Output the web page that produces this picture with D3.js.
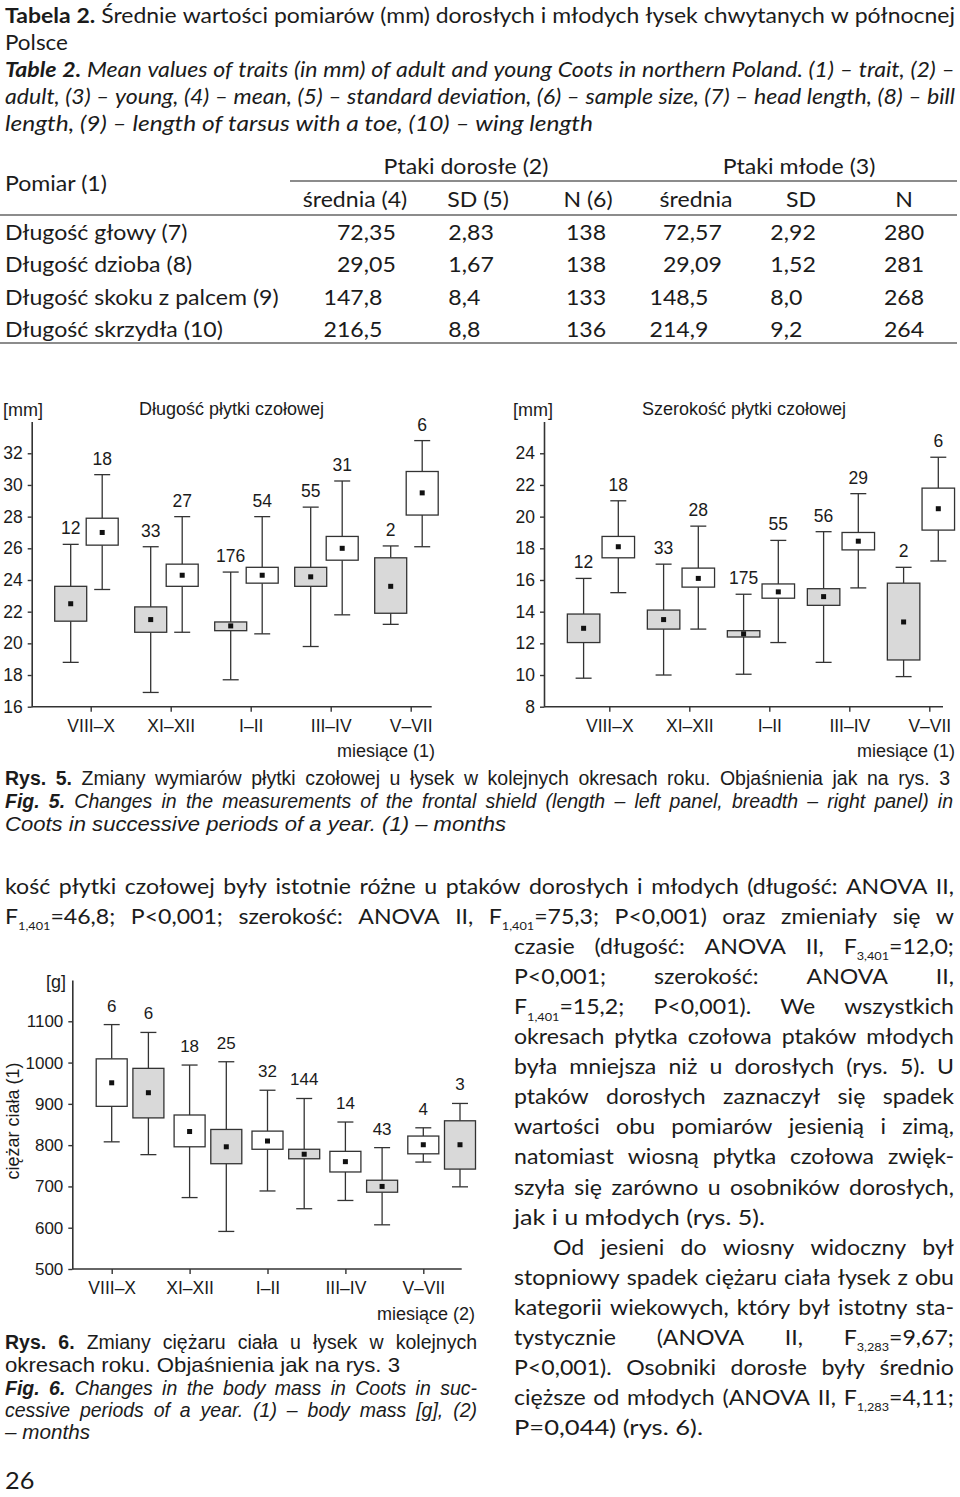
<!DOCTYPE html>
<html><head><meta charset="utf-8">
<script src="https://cdn.jsdelivr.net/npm/d3@7"></script>
<style>body{margin:0;background:#fff}svg{display:block}</style>
</head><body>
<svg id="page" width="960" height="1497"></svg>
<script>
// ---------- DATA ----------
const periods = ["VIII–X", "XI–XII", "I–II", "III–IV", "V–VII"];

// Fig.5 left: length of frontal shield [mm]; adults (grey) / young (white)
const lenAdultLow  = [18.8, 16.9, 17.7, 19.8, 21.2];
const lenAdultQ1   = [21.4, 20.7, 20.8, 23.6, 21.9];
const lenAdultMean = [22.5, 21.5, 21.1, 24.2, 23.6];
const lenAdultQ3   = [23.6, 22.3, 21.35, 24.8, 25.4];
const lenAdultHigh = [26.25, 26.1, 24.5, 28.6, 26.15];
const lenAdultN    = [12, 33, 176, 55, 2];
const lenYoungLow  = [23.4, 20.7, 20.6, 21.8, 26.1];
const lenYoungQ1   = [26.2, 23.6, 23.8, 25.25, 28.1];
const lenYoungMean = [27.0, 24.3, 24.3, 26.0, 29.5];
const lenYoungQ3   = [27.9, 25.0, 24.8, 26.75, 30.85];
const lenYoungHigh = [30.65, 28.0, 28.0, 30.25, 32.8];
const lenYoungN    = [18, 27, 54, 31, 6];

// Fig.5 right: breadth of frontal shield [mm]
const widAdultLow  = [9.8, 10.0, 10.05, 10.8, 9.9];
const widAdultQ1   = [12.05, 12.9, 12.4, 14.4, 10.95];
const widAdultMean = [12.95, 13.5, 12.6, 14.95, 13.35];
const widAdultQ3   = [13.85, 14.1, 12.8, 15.45, 15.8];
const widAdultHigh = [16.1, 17.0, 15.1, 19.05, 16.8];
const widAdultN    = [12, 33, 175, 56, 2];
const widYoungLow  = [15.2, 12.9, 12.05, 15.5, 17.2];
const widYoungQ1   = [17.4, 15.55, 14.85, 17.9, 19.15];
const widYoungMean = [18.1, 16.1, 15.25, 18.45, 20.5];
const widYoungQ3   = [18.75, 16.75, 15.75, 19.0, 21.8];
const widYoungHigh = [21.0, 19.4, 18.5, 21.45, 23.75];
const widYoungN    = [18, 28, 55, 29, 6];

// Fig.6: body mass [g]; white then grey
const massWLow  = [808, 673, 689, 666, 759];
const massWQ1   = [894, 796, 790, 735, 779];
const massWMean = [951, 833, 810, 760, 801];
const massWQ3   = [1009, 873, 834, 785, 822];
const massWHigh = [1092, 994, 933, 856, 842];
const massWN    = [6, 18, 32, 14, 4];
const massGLow  = [777, 591, 646, 607, 699];
const massGQ1   = [866, 755, 767, 686, 742];
const massGMean = [927, 796, 778, 700, 801];
const massGQ3   = [986, 838, 790, 715, 859];
const massGHigh = [1073, 1002, 913, 794, 901];
const massGN    = [6, 25, 144, 43, 3];

const lenTicks  = [16, 18, 20, 22, 24, 26, 28, 30, 32];
const widTicks  = [8, 10, 12, 14, 16, 18, 20, 22, 24];
const massTicks = [500, 600, 700, 800, 900, 1000, 1100];

// Table 2
const measures   = ["Długość głowy (7)", "Długość dzioba (8)", "Długość skoku z palcem (9)", "Długość skrzydła (10)"];
const adultMean  = ["72,35", "29,05", "147,8", "216,5"];
const adultSD    = ["2,83", "1,67", "8,4", "8,8"];
const adultN     = ["138", "138", "133", "136"];
const youngMean  = ["72,57", "29,09", "148,5", "214,9"];
const youngSD    = ["2,92", "1,52", "8,0", "9,2"];
const youngN     = ["280", "281", "268", "264"];

// ---------- HELPERS ----------
const svg = d3.select("#page");
svg.append("rect").attr("width", 960).attr("height", 1497).attr("fill", "#fff");
const BODY = "Lato, 'Open Sans', 'DejaVu Sans', sans-serif";
const ARIAL = "'Liberation Sans', Arial, sans-serif";
const INK = "#1b1b1b";
const BODY_SCALE = 1.1;

function parseWords(text) {
  let bold = false;
  return text.split(" ").map(w => {
    const segs = [];
    const re = /\*\*|_\{([^}]*)\}|[^*_]+/g;
    let m;
    while ((m = re.exec(w))) {
      if (m[0] === "**") { bold = !bold; continue; }
      if (m[1] !== undefined) segs.push({t: m[1], sub: true, bold});
      else segs.push({t: m[0], sub: false, bold});
    }
    return segs;
  }).filter(s => s.length);
}

function renderWord(g, segs, o) {
  const t = g.append("text").attr("font-family", o.family).attr("font-size", o.size)
    .attr("font-style", o.italic ? "italic" : "normal").attr("fill", INK);
  let shifted = false;
  segs.forEach(s => {
    const ts = t.append("tspan").text(s.t).attr("font-weight", s.bold ? "bold" : "normal");
    if (s.sub) {
      ts.attr("font-size", o.size * 0.55);
      if (!shifted) { ts.attr("dy", o.size * 0.3); shifted = true; }
    } else if (shifted) { ts.attr("dy", -o.size * 0.3); shifted = false; }
  });
  return t;
}

function spaceWidth(o) {
  const mk = s => svg.append("text").attr("font-family", o.family).attr("font-size", o.size).attr("font-style", o.italic ? "italic" : "normal").text(s);
  const t1 = mk("a a"), t2 = mk("aa");
  const w = t1.node().getComputedTextLength() - t2.node().getComputedTextLength();
  t1.remove(); t2.remove();
  return w;
}

function textLine(o) {
  const g = svg.append("g");
  const words = parseWords(o.text);
  const nodes = words.map(w => renderWord(g, w, o));
  const widths = nodes.map(n => n.node().getComputedTextLength());
  const W = d3.sum(widths);
  const n = words.length - 1;
  const sp = spaceWidth(o);
  const target = o.x1 - o.x0;
  const fitS = target / (W + n * sp);
  let s, gap;
  if (o.mode === "j") {
    s = Math.min(o.scale || 1, fitS);
    gap = n > 0 ? (target - s * W) / n : 0;
  } else {
    s = fitS;
    gap = s * sp;
  }
  let x = o.x0;
  nodes.forEach((nd, i) => {
    nd.attr("transform", `translate(${x},${o.y}) scale(${s},1)`);
    x += widths[i] * s + gap;
  });
}

// ---------- TABLE CAPTION ----------
const capLines = [
  {text: "**Tabela 2.** Średnie wartości pomiarów (mm) dorosłych i młodych łysek chwytanych w północnej", x0: 5, x1: 955, y: 23, mode: "j"},
  {text: "Polsce", x0: 5, x1: 68, y: 50, mode: "f"},
  {text: "**Table 2.** Mean values of traits (in mm) of adult and young Coots in northern Poland. (1) – trait, (2) –", x0: 5, x1: 955, y: 77, mode: "j", italic: true},
  {text: "adult, (3) – young, (4) – mean, (5) – standard deviation, (6) – sample size, (7) – head length, (8) – bill", x0: 5, x1: 955, y: 104, mode: "j", italic: true},
  {text: "length, (9) – length of tarsus with a toe, (10) – wing length", x0: 5, x1: 593, y: 131, mode: "f", italic: true}
];
capLines.forEach(l => textLine(Object.assign({family: BODY, size: 21, scale: BODY_SCALE}, l)));

// ---------- TABLE ----------
const tb = svg.append("g").attr("font-family", BODY).attr("font-size", 21).attr("fill", INK);
const rule = (x1, x2, y) => tb.append("line").attr("x1", x1).attr("x2", x2).attr("y1", y).attr("y2", y).attr("stroke", "#666").attr("stroke-width", 1.4);
rule(290, 957, 181); rule(0, 957, 215); rule(0, 957, 343);
function cell(x, y, t, anchor) {
  tb.append("g").attr("transform", `translate(${x},${y}) scale(${BODY_SCALE},1)`)
    .append("text").attr("text-anchor", anchor || "start").text(t);
}
cell(5, 191, "Pomiar (1)");
cell(466, 174, "Ptaki dorosłe (2)", "middle");
cell(799, 174, "Ptaki młode (3)", "middle");
const subHeads = [["średnia (4)", 355], ["SD (5)", 478], ["N (6)", 588], ["średnia", 696], ["SD", 801], ["N", 904]];
subHeads.forEach(([t, x]) => cell(x, 207, t, "middle"));
const rowY = d3.scalePoint().domain(measures).range([240, 337]);
function decimalCell(v, commaX, y) {
  const [a, b] = v.split(",");
  cell(commaX, y, a + ",", "end");
  cell(commaX, y, b, "start");
}
measures.forEach((m, i) => {
  const y = rowY(m);
  cell(5, y, m);
  decimalCell(adultMean[i], 369, y);
  decimalCell(adultSD[i], 467, y);
  cell(586, y, adultN[i], "middle");
  decimalCell(youngMean[i], 695, y);
  decimalCell(youngSD[i], 789, y);
  cell(904, y, youngN[i], "middle");
});

// ---------- BOX PLOTS ----------
function boxPlot(c) {
  const g = svg.append("g");
  const y = d3.scaleLinear().domain(c.yDomain).range([c.yBottom, c.yTop]);
  const x = d3.scalePoint().domain(periods).range(c.xRange);
  const ya = g.append("g").attr("transform", `translate(${c.axisX},0)`)
    .call(d3.axisLeft(y).tickValues(c.ticks).tickFormat(d3.format("d")).tickSize(4).tickPadding(c.tickPad).tickSizeOuter(0));
  ya.select(".domain").attr("stroke", "#333").attr("stroke-width", 1.6);
  ya.selectAll(".tick line").attr("stroke", "#333").attr("stroke-width", 1.4);
  ya.selectAll(".tick text").attr("font-family", ARIAL).attr("font-size", c.tickFont).attr("fill", INK);
  const xa = g.append("g").attr("transform", `translate(0,${c.yBottom})`)
    .call(d3.axisBottom(x).tickSize(5).tickPadding(8).tickSizeOuter(0));
  xa.select(".domain").remove();
  xa.selectAll(".tick line").attr("stroke", "#333").attr("stroke-width", 1.4);
  xa.selectAll(".tick text").attr("font-family", ARIAL).attr("font-size", c.catFont).attr("fill", INK);
  g.append("line").attr("x1", c.axisX).attr("x2", c.axisEnd).attr("y1", c.yBottom).attr("y2", c.yBottom)
    .attr("stroke", "#333").attr("stroke-width", 1.6);

  c.series.forEach(s => {
    periods.forEach((p, i) => {
      const cx = x(p) + s.offset;
      const line = (x1, y1, x2, y2) => g.append("line").attr("x1", x1).attr("y1", y1).attr("x2", x2).attr("y2", y2)
        .attr("stroke", "#333").attr("stroke-width", 1.3);
      line(cx, y(s.high[i]), cx, y(s.q3[i]));
      line(cx, y(s.q1[i]), cx, y(s.low[i]));
      line(cx - c.capW / 2, y(s.high[i]), cx + c.capW / 2, y(s.high[i]));
      line(cx - c.capW / 2, y(s.low[i]), cx + c.capW / 2, y(s.low[i]));
      g.append("rect").attr("x", cx - c.boxW / 2).attr("y", y(s.q3[i])).attr("width", c.boxW)
        .attr("height", y(s.q1[i]) - y(s.q3[i])).attr("fill", s.fill).attr("stroke", "#333").attr("stroke-width", 1.3);
      g.append("rect").attr("x", cx - 2.5).attr("y", y(s.mean[i]) - 2.5).attr("width", 5).attr("height", 5).attr("fill", "#111");
      g.append("text").attr("x", cx).attr("y", y(s.high[i]) - c.labelGap).attr("text-anchor", "middle")
        .attr("font-family", ARIAL).attr("font-size", c.labelFont).attr("fill", INK).text(s.n[i]);
    });
  });
  return g;
}

const GREY = "#d9d9d9", WHITE = "#ffffff";

boxPlot({
  yDomain: [16, 34], yBottom: 706.7, yTop: 421.6, ticks: lenTicks,
  xRange: [90.7, 410.7], axisX: 31.7, axisEnd: 431.7, tickPad: 5,
  boxW: 32, capW: 16, labelGap: 10, tickFont: 17.5, catFont: 17.5, labelFont: 17.5,
  series: [
    {low: lenAdultLow, q1: lenAdultQ1, mean: lenAdultMean, q3: lenAdultQ3, high: lenAdultHigh, n: lenAdultN, fill: GREY, offset: -20},
    {low: lenYoungLow, q1: lenYoungQ1, mean: lenYoungMean, q3: lenYoungQ3, high: lenYoungHigh, n: lenYoungN, fill: WHITE, offset: 11.5}
  ]
});
boxPlot({
  yDomain: [8, 26], yBottom: 706.7, yTop: 421.6, ticks: widTicks,
  xRange: [609.3, 929.3], axisX: 544, axisEnd: 943, tickPad: 5,
  boxW: 32.5, capW: 16, labelGap: 10, tickFont: 17.5, catFont: 17.5, labelFont: 17.5,
  series: [
    {low: widAdultLow, q1: widAdultQ1, mean: widAdultMean, q3: widAdultQ3, high: widAdultHigh, n: widAdultN, fill: GREY, offset: -25.7},
    {low: widYoungLow, q1: widYoungQ1, mean: widYoungMean, q3: widYoungQ3, high: widYoungHigh, n: widYoungN, fill: WHITE, offset: 9}
  ]
});
boxPlot({
  yDomain: [500, 1200], yBottom: 1269, yTop: 980, ticks: massTicks,
  xRange: [111.7, 423.3], axisX: 72.3, axisEnd: 461.7, tickPad: 5,
  boxW: 31, capW: 16, labelGap: 13, tickFont: 17, catFont: 17.5, labelFont: 17,
  series: [
    {low: massWLow, q1: massWQ1, mean: massWMean, q3: massWQ3, high: massWHigh, n: massWN, fill: WHITE, offset: 0},
    {low: massGLow, q1: massGQ1, mean: massGMean, q3: massGQ3, high: massGHigh, n: massGN, fill: GREY, offset: 36.7}
  ]
});

// chart titles / unit labels
const lab = (x, y, t, anchor, size) => svg.append("text").attr("x", x).attr("y", y).attr("text-anchor", anchor || "start")
  .attr("font-family", ARIAL).attr("font-size", size || 18).attr("fill", INK).text(t);
lab(3, 416, "[mm]");
lab(139, 415, "Długość płytki czołowej");
lab(513, 416, "[mm]");
lab(642, 415, "Szerokość płytki czołowej");
lab(435, 757, "miesiące (1)", "end");
lab(955, 757, "miesiące (1)", "end");
lab(46, 988, "[g]");
lab(475, 1320, "miesiące (2)", "end");
svg.append("text").attr("transform", "translate(19,1121) rotate(-90)").attr("text-anchor", "middle")
  .attr("font-family", ARIAL).attr("font-size", 18).attr("fill", INK).text("ciężar ciała (1)");

// ---------- FIGURE CAPTIONS ----------
const fig5Cap = [
  {text: "**Rys. 5.** Zmiany wymiarów płytki czołowej u łysek w kolejnych okresach roku. Objaśnienia jak na rys. 3", x0: 5, x1: 950, y: 785, mode: "j"},
  {text: "**Fig. 5.** Changes in the measurements of the frontal shield (length – left panel, breadth – right panel) in", x0: 5, x1: 953, y: 808, mode: "j", italic: true},
  {text: "Coots in successive periods of a year. (1) – months", x0: 5, x1: 506, y: 831, mode: "f", italic: true}
];
const fig6Cap = [
  {text: "**Rys. 6.** Zmiany ciężaru ciała u łysek w kolejnych", x0: 5, x1: 477, y: 1349, mode: "j"},
  {text: "okresach roku. Objaśnienia jak na rys. 3", x0: 5, x1: 400, y: 1372, mode: "f"},
  {text: "**Fig. 6.** Changes in the body mass in Coots in suc-", x0: 5, x1: 477, y: 1395, mode: "j", italic: true},
  {text: "cessive periods of a year. (1) – body mass [g], (2)", x0: 5, x1: 477, y: 1417, mode: "j", italic: true},
  {text: "– months", x0: 5, x1: 90, y: 1439, mode: "f", italic: true}
];
fig5Cap.concat(fig6Cap).forEach(l => textLine(Object.assign({family: ARIAL, size: 19.5, scale: 1.0}, l)));

// ---------- BODY TEXT ----------
const bodyLines = [
  ["kość płytki czołowej były istotnie różne u ptaków dorosłych i młodych (długość: ANOVA II,", 5, 954, "j"],
  ["F_{1,401}=46,8; P<0,001; szerokość: ANOVA II, F_{1,401}=75,3; P<0,001) oraz zmieniały się w", 5, 954, "j"],
  ["czasie (długość: ANOVA II, F_{3,401}=12,0;", 514, 954, "j"],
  ["P<0,001; szerokość: ANOVA II,", 514, 954, "j"],
  ["F_{1,401}=15,2; P<0,001). We wszystkich", 514, 954, "j"],
  ["okresach płytka czołowa ptaków młodych", 514, 954, "j"],
  ["była mniejsza niż u dorosłych (rys. 5). U", 514, 954, "j"],
  ["ptaków dorosłych zaznaczył się spadek", 514, 954, "j"],
  ["wartości obu pomiarów jesienią i zimą,", 514, 954, "j"],
  ["natomiast wiosną płytka czołowa zwięk-", 514, 954, "j"],
  ["szyła się zarówno u osobników dorosłych,", 514, 954, "j"],
  ["jak i u młodych (rys. 5).", 514, 765, "f"],
  ["Od jesieni do wiosny widoczny był", 553, 954, "j"],
  ["stopniowy spadek ciężaru ciała łysek z obu", 514, 954, "j"],
  ["kategorii wiekowych, który był istotny sta-", 514, 954, "j"],
  ["tystycznie (ANOVA II, F_{3,283}=9,67;", 514, 954, "j"],
  ["P<0,001). Osobniki dorosłe były średnio", 514, 954, "j"],
  ["cięższe od młodych (ANOVA II, F_{1,283}=4,11;", 514, 954, "j"],
  ["P=0,044) (rys. 6).", 514, 703, "f"]
];
bodyLines.forEach((l, i) => textLine({text: l[0], x0: l[1], x1: l[2], y: 894 + i * 30.05, mode: l[3], family: BODY, size: 21, scale: BODY_SCALE}));

svg.append("g").attr("transform", `translate(5,1489) scale(${BODY_SCALE},1)`)
  .append("text").attr("font-family", BODY).attr("font-size", 23).attr("fill", INK).text("26");
</script>
</body></html>
